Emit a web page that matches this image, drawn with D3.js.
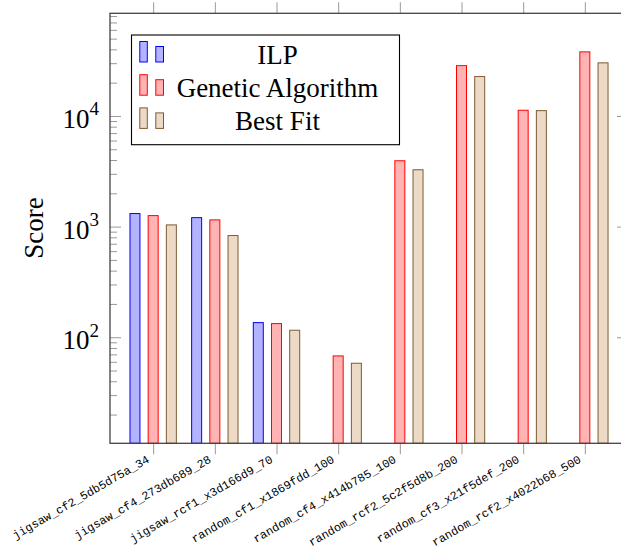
<!DOCTYPE html>
<html>
<head>
<meta charset="utf-8">
<script src="https://cdn.jsdelivr.net/npm/d3@7"></script>
<style>
  html, body { margin: 0; padding: 0; background: #fff; }
  svg { display: block; }
</style>
</head>
<body>
<svg id="chart" width="621" height="548"></svg>
<script>
// ---- data ----
const categories = [
  "jigsaw_cf2_5db5d75a_34",
  "jigsaw_cf4_273db689_28",
  "jigsaw_rcf1_x3d166d9_70",
  "random_cf1_x1869fdd_100",
  "random_cf4_x414b785_100",
  "random_rcf2_5c2f5d8b_200",
  "random_cf3_x21f5def_200",
  "random_rcf2_x4022b68_500"
];
const seriesNames = ["ILP", "Genetic Algorithm", "Best Fit"];
const ilpValues = [1312, 1205, 135.6, null, null, null, null, null];
const gaValues  = [1257, 1150, 132.8, 67.8, 3936, 28500, 11260, 37950];
const bfValues  = [1036, 830, 115.7, 58.2, 3265, 22700, 11170, 30200];
const majorTickValues = [100, 1000, 10000];
const majorTickExponents = ["2", "3", "4"];
const yDomain = [11, 84700];

// ---- layout ----
const L = 110, R = 628, T = 13.3, B = 443.3;
const svg = d3.select("#chart");

const x = d3.scalePoint().domain(categories).range([L, R]).padding(0.7);
const y = d3.scaleLog().domain(yDomain).range([B, T]);

const series = [
  { name: seriesNames[0], values: ilpValues, fill: "#b3b3ff", stroke: "#0000ff", off: -18.2 },
  { name: seriesNames[1], values: gaValues,  fill: "#ffb3b3", stroke: "#ff0000", off: 0 },
  { name: seriesNames[2], values: bfValues,  fill: "#ecd9c6", stroke: "#7f5a33", off: 18.2 }
];

// ---- bars ----
const barW = 10;
series.forEach(s => {
  svg.append("g").selectAll("rect")
    .data(categories.map((c, i) => ({ c, v: s.values[i] })).filter(d => d.v != null))
    .join("rect")
    .attr("x", d => x(d.c) + s.off - barW / 2)
    .attr("width", barW)
    .attr("y", d => y(d.v))
    .attr("height", d => B - y(d.v))
    .attr("fill", s.fill)
    .attr("stroke", s.stroke)
    .attr("stroke-width", 1);
});

// ---- axes ----
const minorTicks = y.ticks().filter(v => !majorTickValues.includes(v) && v >= yDomain[0] && v <= yDomain[1]);
const tickColor = "#999";
const axisColor = "#444";

function styleAxis(g) {
  g.select(".domain").remove();
  g.selectAll(".tick line").attr("stroke", tickColor).attr("stroke-width", 1);
  g.selectAll(".tick text").remove();
}
// left minor / major (inward)
svg.append("g").attr("transform", `translate(${L},0)`)
  .call(d3.axisLeft(y).tickValues(minorTicks).tickSize(-7)).call(styleAxis);
svg.append("g").attr("transform", `translate(${L},0)`)
  .call(d3.axisLeft(y).tickValues(majorTickValues).tickSize(-11)).call(styleAxis);
// right minor / major (inward)
svg.append("g").attr("transform", `translate(${R},0)`)
  .call(d3.axisRight(y).tickValues(minorTicks).tickSize(-7)).call(styleAxis);
svg.append("g").attr("transform", `translate(${R},0)`)
  .call(d3.axisRight(y).tickValues(majorTickValues).tickSize(-11)).call(styleAxis);
// bottom / top x ticks (outward)
svg.append("g").attr("transform", `translate(0,${B})`)
  .call(d3.axisBottom(x).tickSize(11)).call(styleAxis);
svg.append("g").attr("transform", `translate(0,${T})`)
  .call(d3.axisTop(x).tickSize(11)).call(styleAxis);

// axis frame
svg.append("rect")
  .attr("x", L).attr("y", T).attr("width", R - L).attr("height", B - T)
  .attr("fill", "none").attr("stroke", axisColor).attr("stroke-width", 1.3);

// y tick labels 10^k
majorTickValues.forEach((v, i) => {
  const t = svg.append("text")
    .attr("x", 99).attr("y", y(v) + 12)
    .attr("text-anchor", "end")
    .attr("font-family", "'Liberation Serif', 'Times New Roman', serif")
    .attr("fill", "#000");
  t.append("tspan").attr("font-size", 27).text("10");
  t.append("tspan").attr("font-size", 19).attr("dy", -12.5).text(majorTickExponents[i]);
});

// x tick labels
svg.append("g").selectAll("text")
  .data(categories)
  .join("text")
  .attr("transform", d => `translate(${x(d) - 5},458) rotate(-30)`)
  .attr("text-anchor", "end")
  .attr("dy", "0.35em")
  .attr("font-family", "'Liberation Mono', 'DejaVu Sans Mono', monospace")
  .attr("font-size", 11.8)
  .attr("fill", "#000")
  .text(d => d);

// y axis title
svg.append("text")
  .attr("transform", "translate(43.3,228) rotate(-90)")
  .attr("text-anchor", "middle")
  .attr("font-family", "'Liberation Serif', 'Times New Roman', serif")
  .attr("font-size", 27)
  .attr("fill", "#000")
  .text("Score");

// ---- legend ----
const lg = svg.append("g");
lg.append("rect")
  .attr("x", 131.5).attr("y", 35).attr("width", 268).attr("height", 109.7)
  .attr("fill", "#fff").attr("stroke", "#000").attr("stroke-width", 1.1);
series.forEach((s, i) => {
  const base = 62 + i * 33.2;
  lg.append("rect").attr("x", 139.8).attr("y", base - 20.5).attr("width", 7.5).attr("height", 20.5)
    .attr("fill", s.fill).attr("stroke", s.stroke).attr("stroke-width", 1);
  lg.append("rect").attr("x", 155.8).attr("y", base - 15.5).attr("width", 7.7).attr("height", 15.5)
    .attr("fill", s.fill).attr("stroke", s.stroke).attr("stroke-width", 1);
  lg.append("text")
    .attr("x", 277.5).attr("y", base + 2)
    .attr("text-anchor", "middle")
    .attr("font-family", "'Liberation Serif', 'Times New Roman', serif")
    .attr("font-size", 27)
    .attr("fill", "#000")
    .text(s.name);
});
</script>
</body>
</html>
